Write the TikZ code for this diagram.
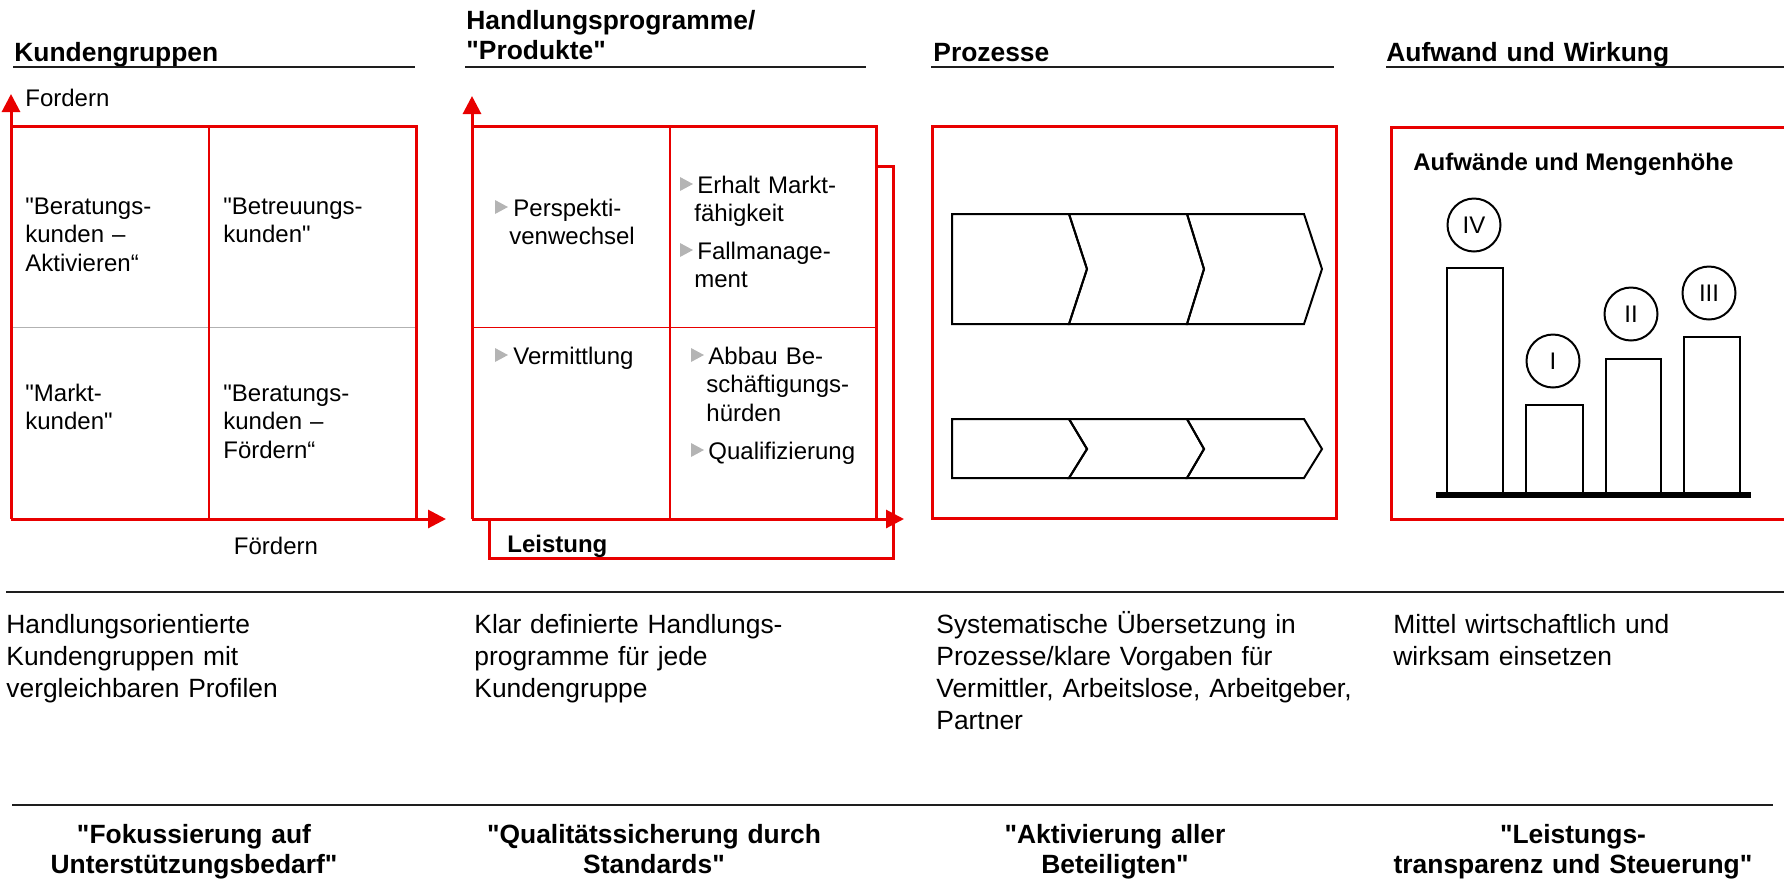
\documentclass[tikz,border=0pt]{standalone}
\usepackage{fontspec}
\setmainfont{Liberation Sans}[Ligatures=TeXOff]
\usetikzlibrary{arrows.meta}
\definecolor{myred}{RGB}{232,0,0}
\definecolor{bulgray}{RGB}{180,180,180}
\definecolor{midgray}{RGB}{178,178,178}
\definecolor{ulcolor}{RGB}{30,30,30}
\tikzset{
  redthick/.style={draw=myred, line width=1.5pt, line cap=rect},
  redthin/.style={draw=myred, line width=0.9pt},
  grayline/.style={draw=midgray, line width=0.9pt},
  axisarrow/.style={draw=myred, line width=1.5pt, -{Triangle[width=9pt,length=9pt]}},
  coltitle/.style={anchor=base west, inner sep=0pt, text width=210pt, align=left, font=\bfseries\fontsize{13.2}{15}\selectfont},
  uline/.style={draw=ulcolor, line width=1pt},
  celltext/.style={anchor=base west, inner sep=0pt, text width=90pt, align=left, font=\fontsize{12}{14.3}\selectfont},
  axislabel/.style={inner sep=0pt, font=\fontsize{12}{14.3}\selectfont},
  bultext/.style={anchor=base west, inner sep=0pt, text width=100pt, align=left, font=\fontsize{12}{14.25}\selectfont},
  bulmark/.style={fill=bulgray},
  chev/.style={draw=black, line width=1pt, line join=miter},
  barbox/.style={draw=black, line width=1pt},
  roman/.style={circle, draw=black, line width=1pt, minimum size=26.5pt, inner sep=0pt, font=\fontsize{12}{14}\selectfont},
  desc/.style={anchor=base west, inner sep=0pt, text width=240pt, align=left, font=\fontsize{13.2}{16}\selectfont},
  motto/.style={anchor=base, inner sep=0pt, text width=220pt, align=center, font=\bfseries\fontsize{13.2}{15}\selectfont},
  sepline/.style={draw=ulcolor, line width=1.2pt},
}
\newcommand{\bulmarkat}[2]{\fill[bulmark] (#1,#2-16) -- (#1,#2-2) -- (#1+13,#2-9) -- cycle;}
\begin{document}
\begin{tikzpicture}[x=0.5pt,y=-0.5pt]
\useasboundingbox (0,0) rectangle (1784,880);

% ---------- column titles ----------
\node[coltitle] (t1) at (14,61) {Kundengruppen};
\node[coltitle] (t2) at (466,29) {Handlungsprogramme/\\"Produkte"};
\node[coltitle] (t3) at (933,61) {Prozesse};
\node[coltitle] (t4) at (1386,61) {Aufwand und Wirkung};
\draw[uline] (13,67) -- (415,67);
\draw[uline] (465,67) -- (866,67);
\draw[uline] (931,67) -- (1334,67);
\draw[uline] (1386,67) -- (1784,67);

% ---------- column 1: Kundengruppen ----------
\draw[grayline] (11,327.5) -- (416,327.5);
\draw[redthin] (209,126) -- (209,519);
\draw[redthick] (11,126) -- (416,126) -- (416,519);
\coordinate (o1) at (11,519);
\coordinate (y1) at (11,94);
\coordinate (x1) at (446,519);
\draw[axisarrow] (o1) -- (y1);
\draw[axisarrow] (o1) -- (x1);
\node[axislabel, anchor=base west] (fy1) at (25,106) {Fordern};
\node[axislabel, anchor=base] (fx1) at (276,554) {Fördern};
\node[celltext] (c11) at (25,214) {"Beratungs-\\kunden –\\Aktivieren“};
\node[celltext] (c12) at (223,214) {"Betreuungs-\\kunden"};
\node[celltext] (c21) at (25,401) {"Markt-\\kunden"};
\node[celltext] (c22) at (223,401) {"Beratungs-\\kunden –\\Fördern“};

% ---------- column 2: Handlungsprogramme ----------
\draw[redthin] (670,126) -- (670,519);
\draw[redthin] (472,327.5) -- (876,327.5);
\draw[redthick] (472,126) -- (876,126) -- (876,519);
\draw[redthick] (876,166) -- (893,166) -- (893,558) -- (489,558) -- (489,519);
\coordinate (o2) at (472,519);
\coordinate (y2) at (472,96);
\coordinate (x2) at (904,519);
\draw[axisarrow] (o2) -- (y2);
\draw[axisarrow] (o2) -- (x2);
\node[anchor=base west, inner sep=0pt, font=\bfseries\fontsize{12}{14}\selectfont] (leist) at (507,552) {Leistung};

\bulmarkat{495}{216}
\node[bultext] (b1) at (509,216) {\hspace*{2pt}Perspekti-\\venwechsel};
\bulmarkat{680}{193}
\node[bultext] (b2) at (694,193) {\hspace*{1.5pt}Erhalt Markt-\\fähigkeit};
\bulmarkat{680}{259}
\node[bultext] (b3) at (694,259) {\hspace*{1.5pt}Fallmanage-\\ment};
\bulmarkat{495}{364}
\node[bultext] (b4) at (509,364) {\hspace*{2pt}Vermittlung};
\bulmarkat{691}{364}
\node[bultext] (b5) at (706,364) {\hspace*{1pt}Abbau Be-\\schäftigungs-\\hürden};
\bulmarkat{691}{459}
\node[bultext] (b6) at (706,459) {\hspace*{1pt}Qualifizierung};

% ---------- column 3: Prozesse ----------
\draw[redthick] (932,126) rectangle (1336,518);
% upper process row
\draw[chev] (952,214) -- (1069,214) -- (1087,269) -- (1069,324) -- (952,324) -- cycle;
\draw[chev] (1069,214) -- (1187,214) -- (1204,269) -- (1187,324) -- (1069,324) -- (1087,269) -- cycle;
\draw[chev] (1187,214) -- (1304,214) -- (1322,269) -- (1304,324) -- (1187,324) -- (1204,269) -- cycle;
% lower process row
\draw[chev] (952,419) -- (1069,419) -- (1087,449) -- (1069,478) -- (952,478) -- cycle;
\draw[chev] (1069,419) -- (1187,419) -- (1204,449) -- (1187,478) -- (1069,478) -- (1087,449) -- cycle;
\draw[chev] (1187,419) -- (1304,419) -- (1322,449) -- (1304,478) -- (1187,478) -- (1204,449) -- cycle;

% ---------- column 4: Aufwand und Wirkung ----------
\draw[redthick] (1790,127) -- (1391,127) -- (1391,519) -- (1790,519);
\node[anchor=base west, inner sep=0pt, font=\bfseries\fontsize{12}{14}\selectfont] (aufw) at (1413,170) {Aufwände und Mengenhöhe};
\draw[barbox] (1447,495) rectangle (1503,268);
\draw[barbox] (1526,495) rectangle (1583,405);
\draw[barbox] (1606,495) rectangle (1661,359);
\draw[barbox] (1684,495) rectangle (1740,337);
\draw[draw=black, line width=3pt] (1436,495) -- (1751,495);
\node[roman] (r4) at (1474,225) {IV};
\node[roman] (r1) at (1553,361) {I};
\node[roman] (r2) at (1631,314) {II};
\node[roman] (r3) at (1709,293) {III};

% ---------- descriptions ----------
\draw[sepline] (6,592) -- (1784,592);
\node[desc] (d1) at (6,633) {Handlungsorientierte\\Kundengruppen mit\\vergleichbaren Profilen};
\node[desc] (d2) at (474,633) {Klar definierte Handlungs-\\programme für jede\\Kundengruppe};
\node[desc] (d3) at (936,633) {Systematische Übersetzung in\\Prozesse/klare Vorgaben für\\Vermittler, Arbeitslose, Arbeitgeber,\\Partner};
\node[desc] (d4) at (1393,633) {Mittel wirtschaftlich und\\wirksam einsetzen};

% ---------- mottos ----------
\draw[sepline] (12,805) -- (1773,805);
\node[motto] (m1) at (194,843) {"Fokussierung auf\\Unterstützungsbedarf"};
\node[motto] (m2) at (654,843) {"Qualitätssicherung durch\\Standards"};
\node[motto] (m3) at (1115,843) {"Aktivierung aller\\Beteiligten"};
\node[motto] (m4) at (1573,843) {"Leistungs-\\transparenz und Steuerung"};
\end{tikzpicture}
\end{document}
